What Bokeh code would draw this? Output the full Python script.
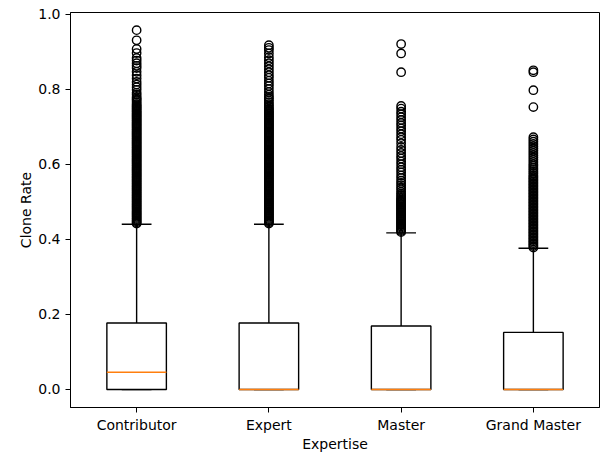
from bokeh.plotting import figure
from bokeh.models import Range1d, FixedTicker
from bokeh.embed import file_html
from bokeh.resources import INLINE

categories = ["Contributor", "Expert", "Master", "Grand Master"]
positions = [1, 2, 3, 4]
q1 = [0.0, 0.0, 0.0, 0.0]
median = [0.046, 0.0, 0.0, 0.0]
q3 = [0.177, 0.177, 0.169, 0.152]
whisker_low = [0.0, 0.0, 0.0, 0.0]
whisker_high = [0.44, 0.44, 0.417, 0.376]

y_ticks = [0.0, 0.2, 0.4, 0.6, 0.8, 1.0]
y_tick_labels = ["0.0", "0.2", "0.4", "0.6", "0.8", "1.0"]

outliers_contributor = [
    0.442, 0.445, 0.448, 0.451, 0.454, 0.457, 0.460, 0.463, 0.466, 0.469,
    0.472, 0.475, 0.478, 0.481, 0.484, 0.487, 0.490, 0.493, 0.496, 0.499,
    0.502, 0.505, 0.508, 0.511, 0.514, 0.517, 0.520, 0.523, 0.526, 0.529,
    0.532, 0.535, 0.538, 0.541, 0.544, 0.547, 0.550, 0.553, 0.556, 0.559,
    0.562, 0.565, 0.568, 0.571, 0.574, 0.577, 0.580, 0.583, 0.586, 0.589,
    0.592, 0.595, 0.598, 0.601, 0.604, 0.607, 0.610, 0.613, 0.616, 0.619,
    0.622, 0.625, 0.628, 0.631, 0.634, 0.637, 0.640, 0.643, 0.646, 0.649,
    0.652, 0.655, 0.658, 0.661, 0.664, 0.667, 0.670, 0.673, 0.676, 0.679,
    0.682, 0.685, 0.688, 0.691, 0.694, 0.697, 0.700, 0.703, 0.706, 0.709,
    0.712, 0.715, 0.718, 0.721, 0.724, 0.727, 0.730, 0.733, 0.736, 0.739,
    0.742, 0.745, 0.748, 0.751, 0.754, 0.757, 0.760,
    0.764, 0.768, 0.772, 0.775, 0.779, 0.785, 0.790, 0.798, 0.805, 0.812,
    0.819, 0.828, 0.837, 0.846, 0.856, 0.862, 0.869, 0.876, 0.883, 0.896,
    0.907, 0.930, 0.957,
]
outliers_expert = [
    0.442, 0.445, 0.448, 0.451, 0.454, 0.457, 0.460, 0.463, 0.466, 0.469,
    0.472, 0.475, 0.478, 0.481, 0.484, 0.487, 0.490, 0.493, 0.496, 0.499,
    0.502, 0.505, 0.508, 0.511, 0.514, 0.517, 0.520, 0.523, 0.526, 0.529,
    0.532, 0.535, 0.538, 0.541, 0.544, 0.547, 0.550, 0.553, 0.556, 0.559,
    0.562, 0.565, 0.568, 0.571, 0.574, 0.577, 0.580, 0.583, 0.586, 0.589,
    0.592, 0.595, 0.598, 0.601, 0.604, 0.607, 0.610, 0.613, 0.616, 0.619,
    0.622, 0.625, 0.628, 0.631, 0.634, 0.637, 0.640, 0.643, 0.646, 0.649,
    0.652, 0.655, 0.658, 0.661, 0.664, 0.667, 0.670, 0.673, 0.676, 0.679,
    0.682, 0.685, 0.688, 0.691, 0.694, 0.697, 0.700, 0.703, 0.706, 0.709,
    0.712, 0.715, 0.718, 0.721, 0.724, 0.727, 0.730, 0.733, 0.736, 0.739,
    0.742, 0.745, 0.748,
    0.752, 0.756, 0.760, 0.765, 0.770, 0.775, 0.779, 0.785, 0.792, 0.800,
    0.808, 0.815, 0.822, 0.830, 0.837, 0.845, 0.853, 0.861, 0.869, 0.877,
    0.885, 0.895, 0.904, 0.910, 0.917,
]
outliers_master = [
    0.419, 0.422, 0.425, 0.428, 0.431, 0.434, 0.437, 0.440, 0.443, 0.446,
    0.449, 0.452, 0.455, 0.458, 0.461, 0.464, 0.467, 0.470, 0.473, 0.476,
    0.479, 0.482, 0.485, 0.488, 0.491, 0.494, 0.497, 0.500, 0.503, 0.506,
    0.509,
    0.513, 0.518, 0.522, 0.527, 0.533, 0.538, 0.544, 0.550, 0.556, 0.563,
    0.570, 0.578, 0.585, 0.592, 0.600, 0.607, 0.615, 0.622, 0.630, 0.638,
    0.646, 0.656, 0.665, 0.672, 0.680, 0.688, 0.695, 0.703, 0.710, 0.718,
    0.725, 0.733, 0.740, 0.748, 0.755,
    0.845, 0.895, 0.920,
]
outliers_grand_master = [
    0.378, 0.382, 0.386, 0.390, 0.394, 0.398, 0.402, 0.406, 0.410, 0.414,
    0.418, 0.422, 0.426, 0.430, 0.434, 0.438, 0.442, 0.446, 0.450, 0.454,
    0.458, 0.462, 0.466, 0.470, 0.474, 0.478, 0.482, 0.486, 0.490, 0.494,
    0.498, 0.502, 0.506, 0.510, 0.514, 0.518, 0.522, 0.526, 0.530, 0.534,
    0.538, 0.542, 0.546, 0.550, 0.554, 0.558, 0.562, 0.566, 0.570, 0.575,
    0.580, 0.585, 0.590, 0.595, 0.600, 0.606, 0.612, 0.618, 0.624, 0.630,
    0.636, 0.642, 0.648, 0.654, 0.660, 0.666, 0.672,
    0.752, 0.797, 0.845, 0.850,
]
outliers = [outliers_contributor, outliers_expert, outliers_master, outliers_grand_master]

box_width = 0.45
cap_width = 0.225
line_w = 1.4

p = figure(width=601, height=454,
           x_range=Range1d(0.5, 4.5), y_range=Range1d(-0.048, 1.004),
           output_backend="svg", toolbar_location=None,
           min_border_left=70, min_border_right=2,
           min_border_top=12, min_border_bottom=47,
           background_fill_color="white", border_fill_color="white")
p.grid.visible = False
p.outline_line_color = "black"
p.outline_line_width = 1
p.outline_line_alpha = 1

# whiskers
p.segment(x0=positions, y0=q3, x1=positions, y1=whisker_high,
          line_color="black", line_width=line_w)
p.segment(x0=positions, y0=q1, x1=positions, y1=whisker_low,
          line_color="black", line_width=line_w)
# caps
cap_left = [x - cap_width / 2 for x in positions]
cap_right = [x + cap_width / 2 for x in positions]
p.segment(x0=cap_left, y0=whisker_high, x1=cap_right, y1=whisker_high,
          line_color="black", line_width=line_w)
p.segment(x0=cap_left, y0=whisker_low, x1=cap_right, y1=whisker_low,
          line_color="black", line_width=line_w)
# boxes
box_left = [x - box_width / 2 for x in positions]
box_right = [x + box_width / 2 for x in positions]
p.quad(left=box_left, right=box_right, bottom=q1, top=q3,
       fill_color="white", line_color="black", line_width=line_w)
# medians
p.segment(x0=box_left, y0=median, x1=box_right, y1=median,
          line_color="#ff7f0e", line_width=line_w)
# fliers
fx, fy = [], []
for pos, vals in zip(positions, outliers):
    fx.extend([pos] * len(vals))
    fy.extend(vals)
p.scatter(x=fx, y=fy, marker="circle", size=8.4, fill_color=None,
          line_color="black", line_width=1.4)

p.xaxis.ticker = FixedTicker(ticks=positions)
p.xaxis.major_label_overrides = {pos: cat for pos, cat in zip(positions, categories)}
p.yaxis.ticker = FixedTicker(ticks=y_ticks)
p.yaxis.major_label_overrides = {t: l for t, l in zip(y_ticks, y_tick_labels)}

p.xaxis.axis_label = "Expertise"
p.yaxis.axis_label = "Clone Rate"
for ax in (p.xaxis, p.yaxis):
    ax.axis_line_color = "black"
    ax.axis_line_width = 1
    ax.major_tick_line_color = "black"
    ax.major_tick_line_width = 1
    ax.major_tick_in = 0
    ax.major_tick_out = 5
    ax.minor_tick_line_color = None
    ax.major_label_text_font = "DejaVu Sans"
    ax.major_label_text_font_size = "14px"
    ax.major_label_text_color = "black"
    ax.axis_label_text_font = "DejaVu Sans"
    ax.axis_label_text_font_size = "14px"
    ax.axis_label_text_font_style = "normal"
    ax.axis_label_text_color = "black"
p.xaxis.major_label_standoff = 4
p.yaxis.major_label_standoff = 5
p.xaxis.axis_label_standoff = 0
p.yaxis.axis_label_standoff = 1

open("out.html", "w").write(file_html(p, INLINE))
